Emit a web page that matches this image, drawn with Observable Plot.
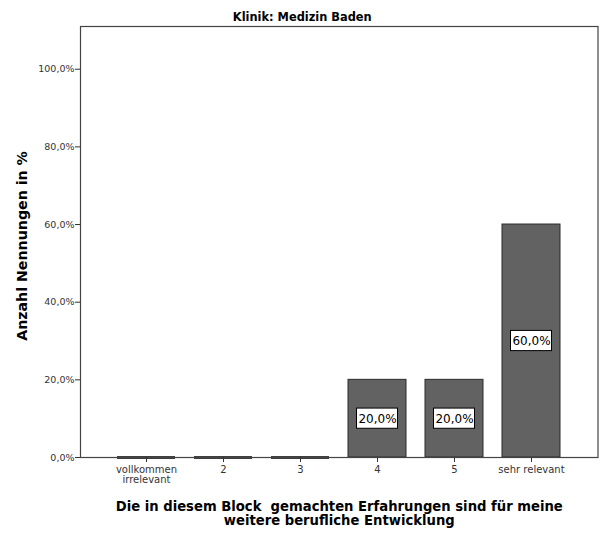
<!DOCTYPE html>
<html>
<head>
<meta charset="utf-8">
<script src="https://cdn.jsdelivr.net/npm/d3@7"></script>
<script src="https://cdn.jsdelivr.net/npm/@observablehq/plot@0.6"></script>
<style>
  body { margin: 0; background: #fff; }
  #chart svg { display: block; }
</style>
</head>
<body>
<div id="chart"></div>
<script>
const categories = ["vollkommen\nirrelevant", "2", "3", "4", "5", "sehr relevant"];
const values = [0, 0, 0, 20, 20, 60];
const yTicks = [0, 20, 40, 60, 80, 100];
const title = "Klinik: Medizin Baden";
const yTitle = "Anzahl Nennungen in %";
const xTitle = "Die in diesem Block\u00a0 gemachten Erfahrungen sind für meine\nweitere berufliche Entwicklung";

const data = categories.map((c, i) => ({cat: c, value: values[i]}));
const fmt = v => v.toFixed(1).replace(".", ",") + "%";
const boxHalf = 2.6;

const chart = Plot.plot({
  width: 602,
  height: 534,
  marginLeft: 80,
  marginRight: 4.5,
  marginTop: 26,
  marginBottom: 77,
  style: {fontFamily: "DejaVu Sans, sans-serif", fontSize: "9px", color: "#333", background: "#fff"},
  x: {domain: categories, paddingInner: 0.25, paddingOuter: 0.456, label: null},
  y: {domain: [0, 111], label: null},
  marks: [
    Plot.barY(data.filter(d => d.value > 0), {x: "cat", y: "value", fill: "#626262", stroke: "#2a2a2a", strokeWidth: 1}),
    Plot.tickY(data.filter(d => d.value === 0), {x: "cat", y: "value", stroke: "#000", strokeWidth: 2.5}),
    Plot.frame({stroke: "#444", strokeWidth: 1.2}),
    Plot.axisY({ticks: yTicks, tickFormat: fmt, tickSize: 5, tickPadding: 1, fontSize: 9.5, stroke: "#333", label: null}),
    Plot.axisX({tickSize: 5, tickPadding: 3, fontSize: 10, label: null, lineHeight: 1.05}),
    Plot.barY(data.filter(d => d.value > 0), {x: "cat", y1: d => d.value / 2 - boxHalf, y2: d => d.value / 2 + boxHalf, fill: "#fff", stroke: "#000", strokeWidth: 1, insetLeft: 8.5, insetRight: 8.5}),
    Plot.text(data.filter(d => d.value > 0), {x: "cat", y: d => d.value / 2, text: d => fmt(d.value), fill: "#000", fontSize: 12}),
    Plot.text([title], {frameAnchor: "top", dx: -37, dy: -14, text: d => d, fontWeight: "bold", fontSize: 11.4, fill: "#000"}),
    Plot.text([yTitle], {frameAnchor: "left", dx: -58, dy: 4, rotate: -90, textAnchor: "middle", text: d => d, fontWeight: "bold", fontSize: 14.2, fill: "#000"}),
    Plot.text([xTitle], {frameAnchor: "bottom", dy: 43, lineAnchor: "top", text: d => d, fontWeight: "bold", fontSize: 13.2, fill: "#000", lineHeight: 1.1})
  ]
});
document.getElementById("chart").appendChild(chart);
</script>
</body>
</html>
